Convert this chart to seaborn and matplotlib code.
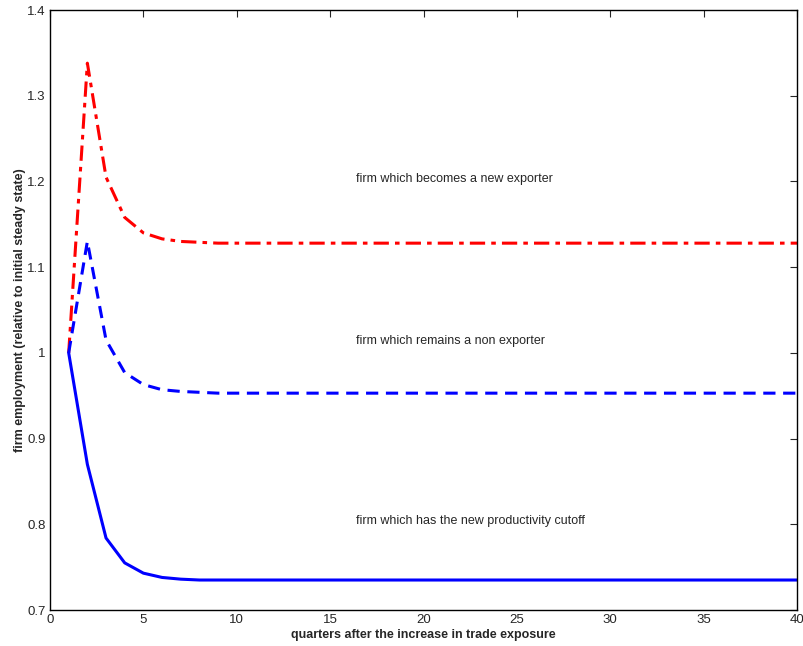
import numpy as np
import pandas as pd
import matplotlib
matplotlib.use('Agg')
import matplotlib.pyplot as plt
import seaborn as sns

# quarters and firm employment paths (relative to initial steady state)
quarters = list(range(1, 41))
new_exporter = [1.0, 1.338, 1.205, 1.158, 1.140, 1.133, 1.130, 1.129] + [1.128] * 32
non_exporter = [1.0, 1.130, 1.015, 0.977, 0.963, 0.957, 0.955, 0.954] + [0.953] * 32
cutoff_firm = [1.0, 0.870, 0.784, 0.755, 0.743, 0.738, 0.736, 0.735] + [0.735] * 32

labels = ['firm which becomes a new exporter',
          'firm which remains a non exporter',
          'firm which has the new productivity cutoff']
label_x = 16.4
label_y = [1.203, 1.014, 0.804]

x_ticks = [0, 5, 10, 15, 20, 25, 30, 35, 40]
y_ticks = [0.7, 0.8, 0.9, 1.0, 1.1, 1.2, 1.3, 1.4]
y_ticklabels = ['0.7', '0.8', '0.9', '1', '1.1', '1.2', '1.3', '1.4']

sns.set_style('white')
plt.rcParams['font.family'] = ['Liberation Sans', 'DejaVu Sans']

df = pd.DataFrame({'quarter': quarters, 'new': new_exporter,
                   'non': non_exporter, 'cutoff': cutoff_firm})

fig = plt.figure(figsize=(8.04, 6.46), dpi=100)
ax = fig.add_axes([0.0622, 0.0557, 0.9291, 0.9288])

sns.lineplot(data=df, x='quarter', y='new', ax=ax, color='red', lw=2.2,
             linestyle=(0, (5, 2, 1.5, 2)))
sns.lineplot(data=df, x='quarter', y='non', ax=ax, color='blue', lw=2.2,
             linestyle=(0, (4, 2.5)))
sns.lineplot(data=df, x='quarter', y='cutoff', ax=ax, color='blue', lw=2.2)

for txt, yy in zip(labels, label_y):
    ax.text(label_x, yy, txt, fontsize=9, va='center', ha='left')

ax.set_xlim(0, 40)
ax.set_ylim(0.7, 1.4)
ax.set_xticks(x_ticks)
ax.set_yticks(y_ticks)
ax.set_yticklabels(y_ticklabels)
ax.tick_params(direction='in', top=True, right=True, length=5, labelsize=9.5,
               width=0.8, pad=3)
for s in ax.spines.values():
    s.set_visible(True)
    s.set_color('black')
    s.set_linewidth(1)

ax.set_xlabel('quarters after the increase in trade exposure', fontsize=9,
              fontweight='bold', labelpad=2)
ax.set_ylabel('firm employment (relative to initial steady state)', fontsize=9,
              fontweight='bold', labelpad=1)

fig.savefig('out.png', dpi=100)
